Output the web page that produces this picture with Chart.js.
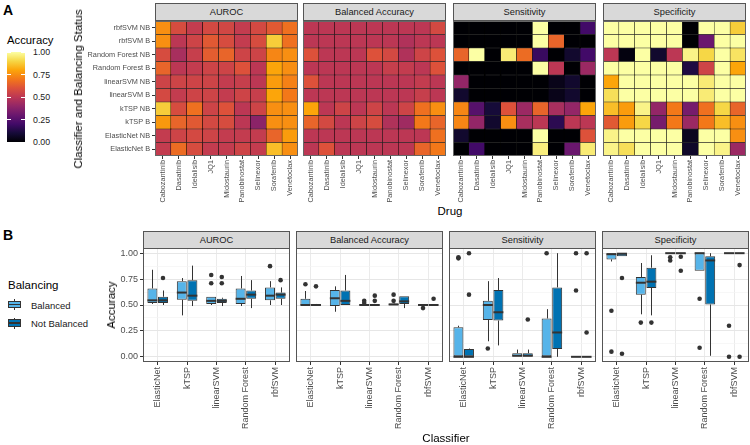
<!DOCTYPE html>
<html>
<head>
<meta charset="utf-8">
<script src="https://cdn.jsdelivr.net/npm/chart.js@4.4.1/dist/chart.umd.min.js"></script>
<style>
body { margin: 0; width: 750px; height: 445px; background: #fff; position: relative; overflow: hidden; font-family: "Liberation Sans", Arial, sans-serif; color: #000; }
canvas { position: absolute; }
.txt { position: absolute; white-space: nowrap; }
.strip { position: absolute; background: #d9d9d9; border: 1px solid #555; box-sizing: border-box; text-align: center; font-size: 9.3px; color: #1a1a1a; line-height: 16px; }
.rot { position: absolute; white-space: nowrap; transform: translate(-50%, -50%) rotate(-90deg); font-size: 11.5px; }
</style>
</head>
<body>
<canvas id="hm0" width="218" height="184" style="left:80px;top:21px"></canvas>
<canvas id="hm1" width="143" height="184" style="left:303px;top:21px"></canvas>
<canvas id="hm2" width="143" height="184" style="left:453px;top:21px"></canvas>
<canvas id="hm3" width="143" height="184" style="left:603px;top:21px"></canvas>
<canvas id="bx0" width="175" height="197" style="left:115px;top:248px"></canvas>
<canvas id="bx1" width="147" height="197" style="left:296px;top:248px"></canvas>
<canvas id="bx2" width="147" height="197" style="left:449px;top:248px"></canvas>
<canvas id="bx3" width="147" height="197" style="left:602px;top:248px"></canvas>
<script>
// ---- data ----
const drugs = ['Cabozantinib', 'Dasatinib', 'Idelalisib', 'JQ1', 'Midostaurin', 'Panobinostat', 'Selinexor', 'Sorafenib', 'Venetoclax'];
// rows from top to bottom
const rowLabels = ['rbfSVM NB', 'rbfSVM B', 'Random Forest NB', 'Random Forest B', 'linearSVM NB', 'linearSVM B', 'kTSP NB', 'kTSP B', 'ElasticNet NB', 'ElasticNet B'];
const classifiers = ['ElasticNet', 'kTSP', 'linearSVM', 'Random Forest', 'rbfSVM'];
const metrics = ['AUROC', 'Balanced Accuracy', 'Sensitivity', 'Specificity'];
const accTicks = [0, 0.25, 0.5, 0.75, 1];
const minorTicks = [0.125, 0.375, 0.625, 0.875];

const aurocGrid = [
    [0.75, 0.58, 0.52, 0.57, 0.56, 0.52, 0.57, 0.62, 0.68],
    [0.75, 0.50, 0.55, 0.62, 0.58, 0.52, 0.58, 0.88, 0.68],
    [0.58, 0.45, 0.53, 0.63, 0.65, 0.55, 0.55, 0.73, 0.75],
    [0.65, 0.50, 0.52, 0.55, 0.55, 0.60, 0.50, 0.80, 0.75],
    [0.55, 0.55, 0.55, 0.55, 0.52, 0.53, 0.50, 0.78, 0.72],
    [0.57, 0.52, 0.55, 0.55, 0.52, 0.55, 0.53, 0.80, 0.70],
    [0.88, 0.58, 0.68, 0.55, 0.60, 0.50, 0.55, 0.75, 0.75],
    [0.77, 0.65, 0.62, 0.57, 0.58, 0.50, 0.38, 0.75, 0.75],
    [0.52, 0.55, 0.57, 0.55, 0.52, 0.52, 0.52, 0.65, 0.78],
    [0.52, 0.67, 0.58, 0.52, 0.52, 0.55, 0.52, 0.85, 0.75]
];
const balAccGrid = [
    [0.50, 0.50, 0.50, 0.50, 0.50, 0.50, 0.50, 0.50, 0.57],
    [0.50, 0.50, 0.50, 0.50, 0.50, 0.50, 0.47, 0.50, 0.50],
    [0.60, 0.50, 0.50, 0.50, 0.60, 0.57, 0.47, 0.55, 0.60],
    [0.50, 0.50, 0.50, 0.50, 0.50, 0.53, 0.52, 0.50, 0.60],
    [0.60, 0.50, 0.50, 0.50, 0.50, 0.50, 0.50, 0.52, 0.50],
    [0.50, 0.50, 0.50, 0.50, 0.50, 0.50, 0.50, 0.53, 0.50],
    [0.80, 0.50, 0.55, 0.50, 0.55, 0.50, 0.55, 0.68, 0.75],
    [0.65, 0.57, 0.50, 0.55, 0.58, 0.47, 0.43, 0.70, 0.65],
    [0.50, 0.50, 0.50, 0.50, 0.50, 0.50, 0.50, 0.50, 0.68],
    [0.50, 0.60, 0.50, 0.50, 0.50, 0.50, 0.50, 0.65, 0.70]
];
const sensGrid = [
    [0.00, 0.00, 0.00, 0.00, 0.00, 1.00, 0.00, 0.00, 0.20],
    [0.00, 0.00, 0.00, 0.00, 0.00, 1.00, 0.65, 0.00, 0.00],
    [0.65, 1.00, 0.00, 0.95, 0.67, 0.18, 0.00, 0.08, 0.20],
    [0.00, 0.00, 0.00, 0.00, 0.00, 1.00, 0.50, 0.00, 0.42],
    [0.40, 0.00, 0.00, 0.00, 0.00, 0.00, 0.04, 0.08, 0.00],
    [0.08, 0.00, 0.00, 0.00, 0.00, 0.00, 0.04, 0.08, 0.00],
    [0.73, 0.25, 0.10, 0.60, 0.42, 0.65, 0.45, 0.40, 0.80],
    [0.73, 0.40, 0.08, 0.75, 0.45, 0.50, 0.15, 0.50, 0.50],
    [0.08, 0.00, 0.00, 0.00, 0.00, 1.00, 0.00, 0.00, 0.60],
    [0.00, 0.20, 0.00, 0.00, 0.00, 0.96, 0.00, 0.30, 0.95]
];
const specGrid = [
    [1.00, 1.00, 1.00, 1.00, 1.00, 0.00, 1.00, 1.00, 0.88],
    [1.00, 1.00, 1.00, 1.00, 1.00, 0.00, 0.30, 1.00, 1.00],
    [0.50, 0.02, 1.00, 0.08, 0.50, 0.97, 0.90, 1.00, 0.93],
    [1.00, 1.00, 1.00, 1.00, 1.00, 0.12, 0.55, 1.00, 0.80],
    [0.80, 1.00, 1.00, 1.00, 1.00, 1.00, 0.95, 1.00, 1.00],
    [0.92, 1.00, 1.00, 1.00, 1.00, 1.00, 0.95, 1.00, 1.00],
    [0.85, 0.78, 0.97, 0.40, 0.70, 0.33, 0.68, 0.90, 0.65],
    [0.62, 0.78, 0.90, 0.33, 0.70, 0.42, 0.70, 0.85, 0.75],
    [0.97, 1.00, 1.00, 1.00, 1.00, 0.05, 1.00, 1.00, 0.75],
    [0.97, 0.92, 1.00, 1.00, 1.00, 0.07, 1.00, 0.97, 0.42]
];

// box summaries per classifier: [lower whisker, q1, median, q3, upper whisker]
const aurocBal = [[0.51, 0.52, 0.545, 0.66, 0.84], [0.40, 0.55, 0.62, 0.73, 0.76], [0.50, 0.51, 0.54, 0.58, 0.58], [0.49, 0.51, 0.56, 0.66, 0.78], [0.50, 0.545, 0.59, 0.67, 0.73]];
const aurocBalOut = [[], [], [0.79, 0.71], [], [0.875]];
const aurocNb = [[0.50, 0.52, 0.545, 0.58, 0.64], [0.49, 0.54, 0.59, 0.74, 0.88], [0.49, 0.52, 0.54, 0.56, 0.57], [0.47, 0.56, 0.60, 0.64, 0.74], [0.50, 0.56, 0.60, 0.62, 0.67]];
const aurocNbOut = [[0.76], [], [0.77, 0.71], [], [0.74]];

const balAccBal = [[0.50, 0.50, 0.50, 0.56, 0.635], [0.435, 0.49, 0.565, 0.645, 0.68], [0.50, 0.50, 0.50, 0.505, 0.51], [0.50, 0.50, 0.505, 0.515, 0.52], [0.50, 0.50, 0.50, 0.50, 0.50]];
const balAccBalOut = [[0.70], [], [0.54, 0.52], [0.60, 0.54], [0.47]];
const balAccNb = [[0.50, 0.50, 0.50, 0.505, 0.51], [0.50, 0.50, 0.54, 0.64, 0.79], [0.50, 0.50, 0.50, 0.50, 0.50], [0.47, 0.51, 0.535, 0.585, 0.585], [0.50, 0.50, 0.50, 0.50, 0.50]];
const balAccNbOut = [[0.68], [], [0.59, 0.54], [], [0.56]];

const sensBal = [[0, 0, 0, 0.285, 0.30], [0.15, 0.355, 0.50, 0.54, 0.73], [0, 0, 0.01, 0.035, 0.07], [0, 0, 0, 0.37, 0.46], [0, 0, 0, 0, 0]];
const sensBalOut = [[0.95, 0.96], [0.08], [], [1.0], [1.0, 0.64]];
const sensNb = [[0, 0, 0, 0.075, 0.08], [0.11, 0.35, 0.43, 0.645, 0.76], [0, 0, 0.01, 0.035, 0.07], [0, 0.075, 0.235, 0.67, 1.0], [0, 0, 0, 0, 0]];
const sensNbOut = [[1.0, 0.60], [], [0.36], [], [1.0, 0.235]];

const specBal = [[0.92, 0.94, 0.99, 1.0, 1.0], [0.41, 0.60, 0.715, 0.77, 0.905], [1, 1, 1, 1, 1], [0.83, 0.83, 1.0, 1.0, 1.0], [1, 1, 1, 1, 1]];
const specBalOut = [[0.445, 0.05], [0.33], [0.96, 0.93], [0.56, 0.087], [0.30, 0.0]];
const specNb = [[0.97, 0.97, 0.995, 1.0, 1.0], [0.40, 0.665, 0.725, 0.86, 0.98], [0.99, 0.99, 1.0, 1.0, 1.0], [0.01, 0.505, 0.93, 0.97, 1.0], [1, 1, 1, 1, 1]];
const specNbOut = [[0.76, 0.03], [0.33], [0.965, 0.83], [], [0.885, 0.0]];

// ---- colours ----
const infernoStops = ['#000004', '#160b39', '#420a68', '#6a176e', '#932667', '#bc3754', '#dd513a', '#f37819', '#fca50a', '#f6d746', '#fcffa4'];
function hexToRgb(h) {
    return [parseInt(h.slice(1, 3), 16), parseInt(h.slice(3, 5), 16), parseInt(h.slice(5, 7), 16)];
}
function inferno(v) {
    const t = Math.max(0, Math.min(1, v)) * 10;
    const i = Math.min(9, Math.floor(t));
    const f = t - i;
    const a = hexToRgb(infernoStops[i]), b = hexToRgb(infernoStops[i + 1]);
    const c = a.map((x, k) => Math.round(x + (b[k] - x) * f));
    return `rgb(${c[0]},${c[1]},${c[2]})`;
}

Chart.defaults.font.family = '"Liberation Sans", Arial, sans-serif';

// ---- html text / legends ----
function addText(text, left, cy, size, extra) {
    const el = document.createElement('div');
    el.className = 'txt';
    el.textContent = text;
    el.style.left = left + 'px';
    el.style.top = cy + 'px';
    el.style.fontSize = size + 'px';
    el.style.transform = 'translateY(-50%)';
    if (extra) Object.assign(el.style, extra);
    document.body.appendChild(el);
    return el;
}
function addBox(left, top, w, h, style) {
    const el = document.createElement('div');
    el.style.position = 'absolute';
    el.style.left = left + 'px';
    el.style.top = top + 'px';
    el.style.width = w + 'px';
    el.style.height = h + 'px';
    el.style.boxSizing = 'border-box';
    Object.assign(el.style, style || {});
    document.body.appendChild(el);
    return el;
}
function addRotated(text, cx, cy) {
    const el = document.createElement('div');
    el.className = 'rot';
    el.textContent = text;
    el.style.left = cx + 'px';
    el.style.top = cy + 'px';
    document.body.appendChild(el);
}
function addStrip(text, left, top, w) {
    const el = document.createElement('div');
    el.className = 'strip';
    el.textContent = text;
    el.style.left = left + 'px';
    el.style.top = top + 'px';
    el.style.width = w + 'px';
    el.style.height = '18px';
    document.body.appendChild(el);
}

addText('A', 3, 10, 14, { fontWeight: 'bold' });
addText('B', 3, 235, 14, { fontWeight: 'bold' });

// colourbar legend
addText('Accuracy', 7, 40, 11.3);
addBox(7, 52, 18, 90, { background: 'linear-gradient(to top, ' + infernoStops.join(', ') + ')' });
accTicks.forEach(v => {
    const y = 142 - v * 90;
    addText(v.toFixed(2), 33, y, 8.8, { color: '#1a1a1a' });
    addBox(7, y - 0.5, 3.6, 1, { background: '#fff' });
    addBox(21.4, y - 0.5, 3.6, 1, { background: '#fff' });
});

// balancing legend
const legendItems = [['Balanced', '#56B4E9', 304.5], ['Not Balanced', '#0072B2', 323]];
legendItems.forEach(([name, col, cy]) => {
    addBox(14, cy - 5.5, 1, 2, { background: '#333' });
    addBox(14, cy + 3.5, 1, 2, { background: '#333' });
    addBox(8, cy - 3.8, 13, 7.6, { background: col, border: '1px solid #333' });
    addBox(8, cy - 0.8, 13, 1.6, { background: '#333' });
    addText(name, 31, cy, 9.5, { color: '#1a1a1a' });
});
addText('Balancing', 8, 285, 11.5);

addRotated('Classifier and Balancing Status', 78, 88.5);
addRotated('Accuracy', 110.5, 305);
addText('Drug', 450, 211, 11.5, { transform: 'translate(-50%, -50%)' });
addText('Classifier', 446, 438, 11.5, { transform: 'translate(-50%, -50%)' });

const heatLefts = [155, 303, 453, 603];
const boxLefts = [143, 296, 449, 602];
metrics.forEach((m, i) => {
    addStrip(m, heatLefts[i], 3, 143);
    addStrip(m, boxLefts[i], 231, 147);
});

// ---- plugins ----
function panelBorder(color) {
    return {
        id: 'panelBorder',
        afterDraw(chart) {
            const a = chart.chartArea, ctx = chart.ctx;
            ctx.save();
            ctx.strokeStyle = color;
            ctx.lineWidth = 1;
            ctx.strokeRect(Math.round(a.left) + 0.5, Math.round(a.top) + 0.5, Math.round(a.right - a.left) - 1, Math.round(a.bottom - a.top) - 1);
            ctx.restore();
        }
    };
}

// fixed axis size and no automatic label padding
function fixSize(prop, size) {
    return s => {
        s[prop] = size;
        s.paddingTop = 0;
        s.paddingBottom = 0;
        s.paddingLeft = 0;
        s.paddingRight = 0;
    };
}

const boxExtras = {
    id: 'boxExtras',
    beforeDatasetsDraw(chart) {
        const ctx = chart.ctx, y = chart.scales.y;
        ctx.save();
        ctx.strokeStyle = '#333';
        ctx.lineWidth = 1;
        chart.data.datasets.forEach((ds, d) => {
            chart.getDatasetMeta(d).data.forEach((bar, i) => {
                const s = ds.stats[i];
                const x = Math.round(bar.x) + 0.5;
                ctx.beginPath();
                ctx.moveTo(x, y.getPixelForValue(s[0]));
                ctx.lineTo(x, y.getPixelForValue(s[1]));
                ctx.moveTo(x, y.getPixelForValue(s[3]));
                ctx.lineTo(x, y.getPixelForValue(s[4]));
                ctx.stroke();
            });
        });
        ctx.restore();
    },
    afterDatasetsDraw(chart) {
        const ctx = chart.ctx, y = chart.scales.y;
        ctx.save();
        chart.data.datasets.forEach((ds, d) => {
            chart.getDatasetMeta(d).data.forEach((bar, i) => {
                const s = ds.stats[i];
                const ym = y.getPixelForValue(s[2]);
                ctx.strokeStyle = '#333';
                ctx.lineWidth = 2;
                ctx.beginPath();
                ctx.moveTo(bar.x - bar.width / 2, ym);
                ctx.lineTo(bar.x + bar.width / 2, ym);
                ctx.stroke();
                ctx.fillStyle = '#333';
                ds.outliers[i].forEach(v => {
                    ctx.beginPath();
                    ctx.arc(bar.x, y.getPixelForValue(v), 2.3, 0, Math.PI * 2);
                    ctx.fill();
                });
            });
        });
        ctx.restore();
    }
};

// ---- heatmaps ----
function makeHeatmap(id, grid, withLabels) {
    const rowsUp = rowLabels.slice().reverse();
    const datasets = rowsUp.map((name, k) => ({
        label: name,
        data: drugs.map(() => 1),
        backgroundColor: grid[rowLabels.length - 1 - k].map(inferno),
        borderColor: '#000',
        borderWidth: 0.5,
        borderSkipped: false,
        barPercentage: 1,
        categoryPercentage: 1
    }));
    new Chart(document.getElementById(id), {
        type: 'bar',
        data: { labels: drugs, datasets: datasets },
        options: {
            responsive: false,
            animation: false,
            layout: { padding: 0, autoPadding: false },
            plugins: { legend: { display: false }, tooltip: { enabled: false } },
            scales: {
                x: {
                    stacked: true,
                    border: { display: false },
                    grid: { color: '#333', drawOnChartArea: false, tickLength: 3, offset: false },
                    ticks: { autoSkip: false, minRotation: 90, maxRotation: 90, padding: 1, color: '#4d4d4d', font: { size: 7.3 } },
                    afterFit: fixSize('height', 49)
                },
                y: {
                    stacked: true,
                    display: withLabels,
                    min: 0,
                    max: 10,
                    border: { display: false },
                    grid: { color: '#333', drawOnChartArea: false, tickLength: 3 },
                    afterBuildTicks: s => { s.ticks = rowsUp.map((_, k) => ({ value: k + 0.5 })); },
                    ticks: { autoSkip: false, padding: 2, color: '#4d4d4d', font: { size: 7.3 }, callback: v => rowsUp[Math.floor(v)] },
                    afterFit: fixSize('width', withLabels ? 75 : 0)
                }
            }
        },
        plugins: [panelBorder('#666')]
    });
}

makeHeatmap('hm0', aurocGrid, true);
makeHeatmap('hm1', balAccGrid, false);
makeHeatmap('hm2', sensGrid, false);
makeHeatmap('hm3', specGrid, false);

// ---- boxplots ----
const isMajor = v => accTicks.some(t => Math.abs(t - v) < 1e-6);

function makeBoxplot(id, bal, balOut, nb, nbOut, withLabels) {
    const mk = (label, stats, outs, color) => ({
        label: label,
        data: stats.map(s => [s[1], s[3]]),
        stats: stats,
        outliers: outs,
        backgroundColor: color,
        borderColor: '#333',
        borderWidth: 1,
        borderSkipped: false,
        categoryPercentage: 0.72,
        barPercentage: 0.94
    });
    new Chart(document.getElementById(id), {
        type: 'bar',
        data: {
            labels: classifiers,
            datasets: [mk('Balanced', bal, balOut, '#56B4E9'), mk('Not Balanced', nb, nbOut, '#0072B2')]
        },
        options: {
            responsive: false,
            animation: false,
            layout: { padding: 0, autoPadding: false },
            plugins: { legend: { display: false }, tooltip: { enabled: false } },
            scales: {
                x: {
                    border: { display: false },
                    grid: { color: '#ebebeb', tickColor: '#333', tickLength: 3, offset: false },
                    ticks: { autoSkip: false, minRotation: 90, maxRotation: 90, padding: 2, color: '#4d4d4d', font: { size: 9 } },
                    afterFit: fixSize('height', 83)
                },
                y: {
                    min: -0.05,
                    max: 1.05,
                    border: { display: false },
                    afterBuildTicks: s => { s.ticks = accTicks.concat(minorTicks).sort((a, b) => a - b).map(v => ({ value: v })); },
                    grid: {
                        color: c => (c.tick && isMajor(c.tick.value)) ? '#e6e6e6' : '#f3f3f3',
                        lineWidth: c => (c.tick && isMajor(c.tick.value)) ? 1 : 0.7,
                        drawTicks: withLabels,
                        tickColor: c => (c.tick && isMajor(c.tick.value)) ? '#333' : 'rgba(0,0,0,0)',
                        tickLength: 3
                    },
                    ticks: {
                        display: withLabels,
                        autoSkip: false,
                        padding: 2,
                        color: '#4d4d4d',
                        font: { size: 9 },
                        callback: v => isMajor(v) ? v.toFixed(2) : ''
                    },
                    afterFit: fixSize('width', withLabels ? 28 : 0)
                }
            }
        },
        plugins: [boxExtras, panelBorder('#555')]
    });
}

makeBoxplot('bx0', aurocBal, aurocBalOut, aurocNb, aurocNbOut, true);
makeBoxplot('bx1', balAccBal, balAccBalOut, balAccNb, balAccNbOut, false);
makeBoxplot('bx2', sensBal, sensBalOut, sensNb, sensNbOut, false);
makeBoxplot('bx3', specBal, specBalOut, specNb, specNbOut, false);
</script>
</body>
</html>
